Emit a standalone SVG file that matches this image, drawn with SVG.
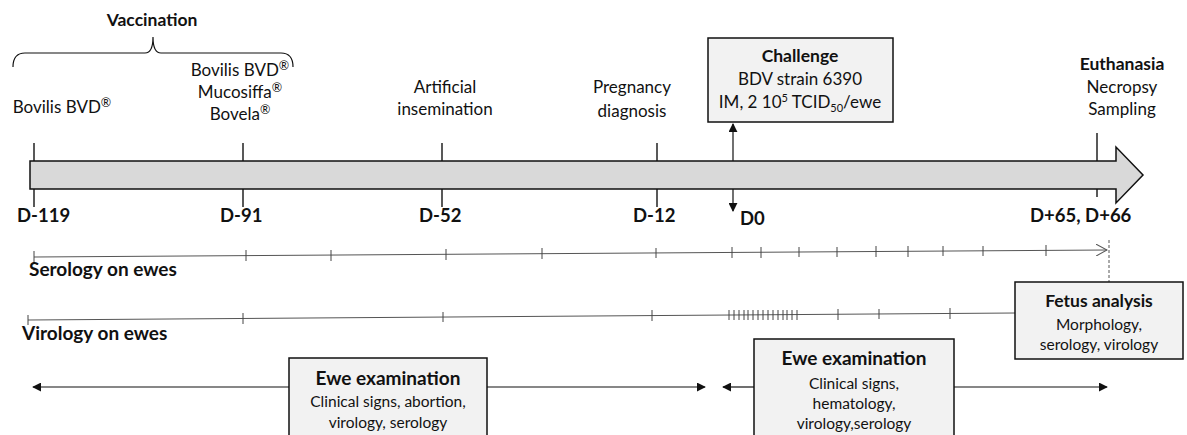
<svg xmlns="http://www.w3.org/2000/svg" width="1187" height="435" viewBox="0 0 1187 435">
<defs>
<style>
text{font-family:Lato,"Liberation Sans",sans-serif;fill:#111}
.t{font-size:17px;text-anchor:middle}
.b{font-size:18.5px;font-weight:bold}
.bl{font-size:19px;font-weight:bold}
.bc{font-size:17.5px;font-weight:bold;text-anchor:middle}
.bt{font-size:19px;font-weight:bold;text-anchor:middle}
.s{font-size:15.5px;text-anchor:middle}
.r{font-size:12.5px}
.box{fill:#f2f2f2;stroke:#111;stroke-width:1.5}
.tick{stroke:#222;stroke-width:1.5}
.thin{stroke:#555;stroke-width:1;fill:none}
.arr{stroke:#111;stroke-width:1.2;fill:none}
</style>
<marker id="ah" viewBox="0 0 10 10" refX="9" refY="5" markerWidth="9" markerHeight="9" markerUnits="userSpaceOnUse" orient="auto-start-reverse"><path d="M0,0L10,5L0,10z" fill="#111"/></marker>
<marker id="oh" viewBox="0 0 12 12" refX="11" refY="6" markerWidth="12" markerHeight="12" markerUnits="userSpaceOnUse" orient="auto"><path d="M0,0L11,6L0,12" fill="none" stroke="#555" stroke-width="1"/></marker>
</defs>
<rect width="1187" height="435" fill="#fff"/>

<g id="vaccination">
<text class="bc" x="152" y="26" font-size="18">Vaccination</text>
<path d="M13,67 Q13,53 25,53 L145,53 Q153,53 153,37 Q153,53 161,53 L281,53 Q293,53 293,67" class="arr" stroke-width="1"/>
<text class="t" x="62" y="113">Bovilis BVD<tspan class="r" dy="-6">®</tspan></text>
<text class="t" x="240" y="76">Bovilis BVD<tspan class="r" dy="-6">®</tspan></text>
<text class="t" x="240" y="98">Mucosiffa<tspan class="r" dy="-6">®</tspan></text>
<text class="t" x="240" y="120">Bovela<tspan class="r" dy="-6">®</tspan></text>
</g>

<g id="ai">
<text class="t" x="445" y="93">Artificial</text>
<text class="t" x="445" y="115">insemination</text>
</g>
<g id="pregnancy">
<text class="t" x="632" y="93">Pregnancy</text>
<text class="t" x="632" y="117">diagnosis</text>
</g>

<g id="challenge">
<rect class="box" x="708" y="38" width="185" height="84"/>
<text class="bc" x="800" y="62">Challenge</text>
<text class="t" x="800" y="85">BDV strain 6390</text>
<text class="t" x="800" y="108">IM, 2 10<tspan font-size="11" dy="-6">5</tspan><tspan dy="6"> TCID</tspan><tspan font-size="11" dy="4">50</tspan><tspan dy="-4">/ewe</tspan></text>
</g>

<g id="euthanasia">
<text class="bc" x="1122" y="70">Euthanasia</text>
<text class="t" x="1122" y="93">Necropsy</text>
<text class="t" x="1122" y="115">Sampling</text>
</g>

<g id="timeline">
<line class="tick" x1="34" y1="143" x2="34" y2="207"/>
<line class="tick" x1="243" y1="143" x2="243" y2="207"/>
<line class="tick" x1="442" y1="143" x2="442" y2="207"/>
<line class="tick" x1="657" y1="143" x2="657" y2="207"/>
<line class="tick" x1="1097" y1="133" x2="1097" y2="197"/>
<polygon points="30,161 1116,161 1116,147 1143,175 1116,203 1116,189 30,189" fill="#d9d9d9" stroke="#111" stroke-width="1.5"/>
<text class="b" x="17" y="222">D-119</text>
<text class="b" x="220" y="222">D-91</text>
<text class="b" x="419" y="222">D-52</text>
<text class="b" x="633" y="222">D-12</text>
<text class="b" x="740" y="225">D0</text>
<text class="b" x="1030" y="222">D+65, D+66</text>
</g>

<g id="connectors">
<line class="arr" x1="733" y1="161" x2="733" y2="124" marker-end="url(#ah)"/>
<line class="arr" x1="733" y1="189" x2="733" y2="211" marker-end="url(#ah)"/>
<line class="thin" x1="34" y1="257" x2="1107" y2="250" marker-end="url(#oh)"/>
<line x1="1109" y1="240" x2="1109" y2="282" stroke="#555" stroke-width="1" stroke-dasharray="3,2"/>
<line class="thin" x1="28" y1="320" x2="1015" y2="313"/>
<line class="arr" x1="289" y1="387" x2="33" y2="387" marker-end="url(#ah)"/>
<line class="arr" x1="487" y1="387" x2="705" y2="387" marker-end="url(#ah)"/>
<line class="arr" x1="754" y1="387" x2="723" y2="387" marker-end="url(#ah)"/>
<line class="arr" x1="954" y1="387" x2="1107" y2="387" marker-end="url(#ah)"/>
</g>

<g id="serology-ticks" stroke="#444" stroke-width="1">
<path d="M34,251V263M246,250V261M331,250V261M446,249V260M542,248V259M656,248V258M732,247V258M761,247V258M799,247V257M837,247V257M876,246V257M908,246V257M943,246V256M983,246V256M1046,245V256"/>
</g>
<text class="bl" x="29" y="276">Serology on ewes</text>

<g id="virology-ticks" stroke="#444" stroke-width="1">
<path d="M28,315V325M243,313V324M443,312V322M652,310V321M729,310V320M734,310V320M739,310V320M744,310V320M748,310V320M753,310V320M758,310V320M763,310V320M768,310V320M773,310V320M778,310V320M783,310V320M787,310V320M792,310V320M797,310V320M838,309V320M879,309V319M950,308V319"/>
</g>
<text class="bl" x="22" y="340">Virology on ewes</text>

<g id="fetus">
<rect class="box" x="1015" y="282" width="168" height="77"/>
<text class="bc" x="1099" y="307">Fetus analysis</text>
<text class="s" x="1099" y="330">Morphology,</text>
<text class="s" x="1099" y="350">serology, virology</text>
</g>

<g id="ewe1">
<rect class="box" x="289" y="358" width="198" height="90"/>
<text class="bt" x="388" y="385">Ewe examination</text>
<text class="s" x="388" y="407">Clinical signs, abortion,</text>
<text class="s" x="388" y="428">virology, serology</text>
</g>

<g id="ewe2">
<rect class="box" x="754" y="339" width="200" height="110"/>
<text class="bt" x="854" y="365">Ewe examination</text>
<text class="s" x="854" y="389">Clinical signs,</text>
<text class="s" x="854" y="409">hematology,</text>
<text class="s" x="854" y="429">virology,serology</text>
</g>
</svg>
